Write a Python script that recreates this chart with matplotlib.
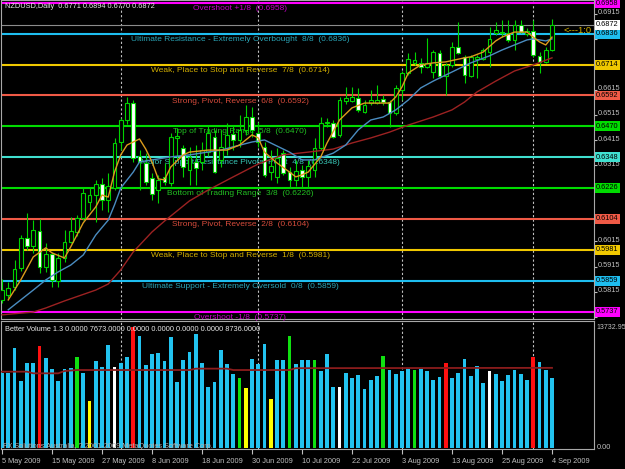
import numpy as np
import matplotlib
matplotlib.use('Agg')
import matplotlib.pyplot as plt
import matplotlib.transforms as mtransforms

# ---- data (NZDUSD daily, 5 May - 4 Sep 2009) ----
opens = [.5783, .5803, .5834, .5910, .6028, .5997, .6056, .5914, .5965, .5858,
         .5949, .6012, .6052, .6107, .6171, .6198, .6242, .6179, .6226, .6408,
         .6495, .6562, .6353, .6325, .6266, .6218, .6270, .6246, .6424, .6384,
         .6297, .6329, .6329, .6368, .6428, .6337, .6384, .6440, .6416, .6456,
         .6507, .6444, .6388, .6289, .6270, .6364, .6289, .6258, .6297, .6270,
         .6297, .6384, .6483, .6483, .6436, .6570, .6570, .6582, .6527, .6562,
         .6562, .6578, .6566, .6523, .6614, .6681, .6721, .6721, .6705, .6685,
         .6760, .6669, .6713, .6784, .6745, .6669, .6737, .6737, .6764, .6839,
         .6843, .6839, .6812, .6871, .6835, .6847, .6749, .6725, .6771]
highs = [.5866, .5854, .5941, .6040, .6127, .6099, .6103, .6008, .5973, .5969,
         .6060, .6111, .6119, .6230, .6230, .6258, .6266, .6286, .6424, .6503,
         .6586, .6574, .6376, .6364, .6286, .6278, .6325, .6444, .6464, .6396,
         .6388, .6396, .6408, .6475, .6456, .6456, .6483, .6475, .6515, .6554,
         .6546, .6487, .6408, .6376, .6384, .6376, .6309, .6337, .6317, .6337,
         .6424, .6507, .6503, .6495, .6586, .6626, .6626, .6622, .6574, .6614,
         .6634, .6594, .6574, .6634, .6689, .6760, .6764, .6741, .6820, .6772,
         .6772, .6721, .6804, .6883, .6752, .6752, .6752, .6780, .6863, .6883,
         .6891, .6891, .6891, .6891, .6859, .6891, .6764, .6784, .6894]
lows = [.5771, .5791, .5822, .5898, .5981, .5969, .5890, .5894, .5834, .5834,
        .5933, .6008, .6036, .6099, .6139, .6091, .6139, .6131, .6218, .6376,
        .6479, .6329, .6218, .6238, .6179, .6167, .6238, .6234, .6337, .6270,
        .6238, .6238, .6297, .6353, .6286, .6309, .6357, .6376, .6388, .6436,
        .6428, .6388, .6270, .6258, .6246, .6278, .6226, .6234, .6230, .6230,
        .6270, .6376, .6467, .6424, .6428, .6558, .6566, .6527, .6523, .6554,
        .6558, .6554, .6467, .6515, .6574, .6673, .6713, .6681, .6701, .6661,
        .6661, .6594, .6705, .6756, .6641, .6665, .6661, .6733, .6705, .6831,
        .6823, .6804, .6772, .6839, .6827, .6745, .6681, .6721, .6770]
closes = [.5822, .5830, .5906, .6028, .5997, .6060, .5914, .5965, .5862, .5949,
          .6012, .6056, .6107, .6206, .6198, .6242, .6179, .6234, .6404, .6495,
          .6562, .6345, .6329, .6250, .6202, .6258, .6250, .6428, .6432, .6309,
          .6349, .6305, .6376, .6444, .6289, .6388, .6436, .6416, .6456, .6507,
          .6456, .6408, .6278, .6313, .6345, .6286, .6258, .6293, .6270, .6313,
          .6384, .6483, .6487, .6428, .6574, .6582, .6586, .6535, .6554, .6574,
          .6574, .6566, .6523, .6622, .6681, .6737, .6733, .6705, .6721, .6764,
          .6669, .6713, .6784, .6760, .6673, .6745, .6745, .6772, .6816, .6851,
          .6839, .6812, .6871, .6843, .6847, .6752, .6725, .6772, .6872]

volumes = [8140, 8140, 10860, 7300, 9300, 9300, 11120, 9850, 8570, 7340,
           8570, 8680, 9950, 8140, 5160, 9480, 8870, 11230, 8870, 9300,
           9950, 13230, 12210, 9050, 10250, 10320, 9480, 12130, 7160, 9590,
           10500, 12430, 9300, 6610, 7160, 10680, 9120, 8030, 7590, 6500,
           9700, 9160, 11300, 5300, 9590, 9590, 12210, 9160, 9590, 9590,
           9590, 8390, 10250, 6610, 6690, 8210, 7590, 7960, 6400, 7410,
           7850, 10070, 8500, 8030, 8390, 8570, 8500, 8570, 8390, 7410,
           7700, 9230, 7590, 8210, 9660, 7850, 8940, 7120, 8430, 8030,
           7340, 7960, 8500, 8070, 7410, 9880, 9410, 8500, 7673]
# b=normal, r=climax, g=low volume churn, y=low volume, w=churn
vol_kind = ("bbbbbbrbbb" "bbgbybbbwb" "brbbbbbbbb" "bbbbbbbbgy" "bbbybbgbbb"
            "gbbbwbbbbb" "bgbbbbgbbb" "brbbbbbbwb" "bbbbbrbbb")
vol_ma_idx = [0, 4, 5, 9, 10, 12, 30, 31, 36, 37, 46, 47, 88]
vol_ma_val = [8320, 8320, 8140, 8140, 8390, 8500, 8500, 8650, 8650, 8500, 8500, 8700, 8736]

# moving averages (read at sample bars)
ma_fast_idx = [1, 3, 5, 7, 8, 10, 11, 13, 15, 16, 17, 18, 19, 20, 22, 23, 24, 25, 26, 27,
               29, 30, 33, 36, 38, 40, 41, 42, 44, 46, 47, 48, 49, 51, 52, 54, 56, 58, 60,
               62, 63, 64, 65, 67, 69, 71, 74, 75, 77, 79, 80, 82, 84, 85, 86, 87, 88]
ma_fast_val = [.5783, .5862, .5953, .5989, .5969, .5949, .5993, .6088, .6151, .6198, .6190,
               .6289, .6357, .6396, .6420, .6380, .6329, .6262, .6258, .6309, .6357, .6368,
               .6376, .6376, .6396, .6436, .6424, .6368, .6325, .6289, .6270, .6278, .6289,
               .6349, .6404, .6495, .6543, .6562, .6562, .6562, .6586, .6626, .6681, .6713,
               .6721, .6725, .6741, .6745, .6764, .6808, .6823, .6843, .6843, .6823, .6804,
               .6792, .6823]
ma_mid_idx = [1, 3, 5, 7, 9, 11, 13, 15, 17, 18, 19, 21, 22, 24, 27, 30, 35, 40, 42, 44,
              46, 48, 50, 53, 55, 57, 59, 61, 63, 65, 67, 69, 72, 75, 78, 80, 82, 84, 85, 87, 88]
ma_mid_val = [.5744, .5783, .5822, .5862, .5894, .5921, .5961, .6040, .6099, .6159, .6226,
              .6289, .6329, .6337, .6349, .6357, .6376, .6408, .6416, .6392, .6368, .6337,
              .6337, .6364, .6396, .6456, .6495, .6507, .6535, .6574, .6622, .6649, .6685,
              .6721, .6749, .6772, .6792, .6812, .6816, .6808, .6816]
ma_slow_idx = [0, 5, 7, 10, 15, 17, 19, 21, 24, 26, 30, 33, 37, 41, 45, 49, 53, 56, 59, 62,
               65, 69, 72, 74, 76, 79, 82, 85, 88]
ma_slow_val = [.5724, .5735, .5751, .5779, .5822, .5846, .5902, .5973, .6052, .6095, .6175,
               .6218, .6270, .6321, .6357, .6368, .6380, .6404, .6424, .6447, .6475, .6507,
               .6535, .6566, .6606, .6649, .6689, .6713, .6741]

# Murrey math levels
levels = [0.6958, 0.6836, 0.6714, 0.6592, 0.6470, 0.6348, 0.6226, 0.6104, 0.5981, 0.5859, 0.5737]
level_names = ["Overshoot +1/8", "Ultimate Resistance - Extremely Overbought  8/8",
               "Weak, Place to Stop and Reverse  7/8", "Strong, Pivot, Reverse  6/8",
               "Top of Trading Range  5/8", "Major Support/Resistance Pivotal Point  4/8",
               "Bottom of Trading Range  3/8", "Strong, Pivot, Reverse  2/8",
               "Weak, Place to Stop and Reverse  1/8",
               "Ultimate Support - Extremely Oversold  0/8", "Overshoot -1/8"]
level_colors = ['#ff00ff', '#1ebef0', '#f0c800', '#f05a46', '#00dc00', '#40e0d0',
                '#00dc00', '#f05a46', '#f0c800', '#1ebef0', '#ff00ff']
text_colors = ['#c800c8', '#2aa6b8', '#d4b000', '#d84c3c', '#22c022', '#38c8b8',
               '#22c022', '#d84c3c', '#d4b000', '#2aa6b8', '#c800c8']

date_ticks = [0, 8, 16, 24, 32, 40, 48, 56, 64, 72, 80, 88]
date_labels = ['5 May 2009', '15 May 2009', '27 May 2009', '8 Jun 2009', '18 Jun 2009',
               '30 Jun 2009', '10 Jul 2009', '22 Jul 2009', '3 Aug 2009', '13 Aug 2009',
               '25 Aug 2009', '4 Sep 2009']
month_starts = [19, 41, 64, 85]
price_ticks = [0.5715, 0.5815, 0.5915, 0.6015, 0.6115, 0.6215, 0.6315, 0.6415,
               0.6515, 0.6615, 0.6715, 0.6815, 0.6915]
hidden_ticks = [0.5715, 0.6115, 0.6215, 0.6715, 0.6815]  # covered by the level boxes
bid = 0.6872

# ---- drawing ----
plt.rcParams['font.family'] = ['Liberation Sans', 'DejaVu Sans']
FS = 5.3
FS_LVL = 6.0
GRID = '#c0c0c0'
W, H = 625, 469
fig = plt.figure(figsize=(W / 100, H / 100), dpi=100, facecolor='black')


def px_axes(left, top, right, bottom):
    a = fig.add_axes([left / W, 1 - bottom / H, (right - left) / W, (bottom - top) / H])
    a.set_facecolor('black')
    for s in a.spines.values():
        s.set_color('#a8a8a8')
        s.set_linewidth(0.8)
    return a


ax = px_axes(1, 0, 594, 319)
axv = px_axes(1, 321, 594, 449)

n = len(closes)
x = np.arange(n)
o, h, l, c = map(np.array, (opens, highs, lows, closes))
for a in (ax, axv):
    a.set_xlim(-0.16, 94.72)
    for m in month_starts:
        a.axvline(m, color=GRID, ls=(0, (2, 2)), lw=0.8, zorder=1)
ax.set_ylim(0.57075, 0.69699)

# levels + labels
for lvl, name, lc, tc in zip(levels, level_names, level_colors, text_colors):
    ax.axhline(lvl, color=lc, lw=1.5, zorder=2)
    ax.annotate(f"{name}  ({lvl:.4f})", xy=(38.1, lvl), xytext=(0, -4),
                textcoords='offset points', ha='center', va='center',
                color=tc, fontsize=FS_LVL, zorder=3, annotation_clip=False)
ax.axhline(bid, color='#8c8c8c', lw=0.8, zorder=2)

# candles
green = '#00d200'
ax.vlines(x, l, h, color=green, lw=0.8, zorder=4)
up = c >= o
ax.bar(x, np.maximum(np.abs(c - o), 0.0002), bottom=np.minimum(o, c), width=0.62,
       color=np.where(up, 'black', 'white'), edgecolor=green, linewidth=0.8, zorder=5)

ax.plot(ma_slow_idx, ma_slow_val, color='#9c2222', lw=1.0, zorder=6)
ax.plot(ma_mid_idx, ma_mid_val, color='#4a8cc0', lw=1.0, zorder=6)
ax.plot(ma_fast_idx, ma_fast_val, color='#dc9c1c', lw=1.0, zorder=6)

ax.text(89.8, 0.6849, '<---1:0', color='#d4b000', fontsize=FS + 1.5, va='center',
        ha='left', clip_on=True, zorder=7)

# right price scale: tick marks from the axis, labels drawn a pixel higher
ax.yaxis.tick_right()
ax.set_yticks(price_ticks)
ax.set_yticklabels([])
ax.tick_params(axis='y', colors=GRID, length=2.5, width=0.8)
ax.set_xticks([])
blend = mtransforms.blended_transform_factory(ax.transAxes, ax.transData)
tick_tr = blend + mtransforms.ScaledTranslation(4 / 100, 1.2 / 100, fig.dpi_scale_trans)
for p in price_ticks:
    if p not in hidden_ticks:
        ax.text(1.0, p, f"{p:.4f}", transform=tick_tr, ha='left', va='center',
                fontsize=FS, color=GRID, clip_on=False, zorder=8)
tr = blend + mtransforms.ScaledTranslation(2 / 100, 0, fig.dpi_scale_trans)
for lvl, lc in zip(levels, level_colors):
    ax.text(1.0, lvl, f"{lvl:.4f}", transform=tr, ha='left', va='center', fontsize=FS,
            color='black', clip_on=False, zorder=10,
            bbox=dict(boxstyle='square,pad=0.2', fc=lc, ec='none'))
ax.text(1.0, bid, f"{bid:.4f}", transform=tr, ha='left', va='center', fontsize=FS,
        color='black', clip_on=False, zorder=10,
        bbox=dict(boxstyle='square,pad=0.2', fc='white', ec='none'))

# volume panel
vcol = {'b': '#22c3f0', 'r': '#ff1010', 'g': '#10e010', 'y': '#ffff00', 'w': '#ffffff'}
axv.bar(x, volumes, width=0.62, color=[vcol[k] for k in vol_kind], zorder=3)
axv.plot(vol_ma_idx, vol_ma_val, color='#8b1c1c', lw=1.3, zorder=4)
axv.set_ylim(-109, 13843)
axv.set_yticks([])
axv.set_xticks(date_ticks)
axv.set_xticklabels(date_labels)
axv.tick_params(axis='x', colors=GRID, labelsize=FS, length=3.5, pad=3, width=0.8)
for t in axv.get_xticklabels():
    t.set_ha('left')

fig.text(5 / W, 1 - 7 / H, 'NZDUSD,Daily  0.6771 0.6894 0.6770 0.6872', color='#e8e8e8',
         fontsize=FS, va='center', ha='left')
fig.text(5 / W, 1 - 329 / H,
         'Better Volume 1.3 0.0000 7673.0000 0.0000 0.0000 0.0000 0.0000 8736.0000',
         color='#e8e8e8', fontsize=FS, va='center', ha='left')
fig.text(3 / W, 1 - 446 / H, 'FX Solutions Australia, ? 2001-2009 MetaQuotes Software Corp.',
         color='#b0b0b0', fontsize=FS, va='center', ha='left')
fig.text(596 / W, 1 - 327 / H, '13732.95', color=GRID, fontsize=FS - 0.3, va='center', ha='left')
fig.text(597 / W, 1 - 447 / H, '0.00', color=GRID, fontsize=FS, va='center', ha='left')

fig.savefig('out.png', dpi=100, facecolor='black')
